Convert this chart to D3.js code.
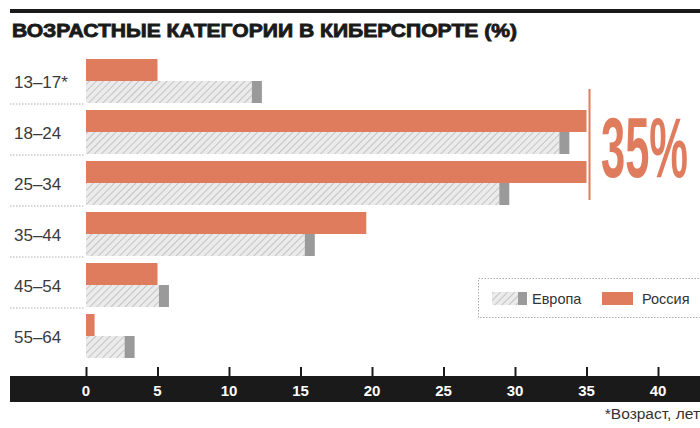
<!DOCTYPE html>
<html><head><meta charset="utf-8">
<script src="https://cdn.jsdelivr.net/npm/d3@7"></script>
<style>body{margin:0;background:#fff}svg{display:block}</style>
</head><body>
<script>
const categories = ["13–17*", "18–24", "25–34", "35–44", "45–54", "55–64"];
const russia = [5, 35, 35, 19.6, 5, 0.6];
const europe = [12.3, 33.8, 29.6, 16.0, 5.8, 3.4];
const ticks = [0, 5, 10, 15, 20, 25, 30, 35, 40];
const seriesNames = ["Европа", "Россия"];
const title = "ВОЗРАСТНЫЕ КАТЕГОРИИ В КИБЕРСПОРТЕ (%)";
const highlight = "35%";
const footnote = "*Возраст, лет";

const W = 700, H = 428;
const orange = "#e07c5e", grey = "#9a9a9a";
const svg = d3.select("body").append("svg").attr("width", W).attr("height", H);
const defs = svg.append("defs");
const pat = defs.append("pattern").attr("id", "hatch").attr("patternUnits", "userSpaceOnUse")
  .attr("width", 5).attr("height", 5).attr("patternTransform", "rotate(45)");
pat.append("rect").attr("width", 5).attr("height", 5).attr("fill", "#ebebeb");
pat.append("line").attr("x1", 0).attr("y1", 0).attr("x2", 0).attr("y2", 5)
  .attr("stroke", "#b3b3b3").attr("stroke-width", 1.4);

const x = d3.scaleLinear().domain([0, 40]).range([86, 658]);
const y = d3.scaleBand().domain(categories).range([55, 361]).paddingInner(0).paddingOuter(0);
const barH = 22;

// top rule and title
svg.append("rect").attr("x", 10).attr("y", 9).attr("width", 690).attr("height", 4).attr("fill", "#1a1a1a");
svg.append("text").attr("x", 12).attr("y", 37).text(title)
  .attr("font-family", "Liberation Sans, Arial, sans-serif").attr("font-weight", "bold")
  .attr("font-size", 17.5).attr("fill", "#1a1a1a")
  .attr("textLength", 505).attr("lengthAdjust", "spacingAndGlyphs")
  .style("stroke", "#1a1a1a").style("stroke-width", 0.8);

// separators
categories.slice(1).forEach(c => {
  svg.append("line").attr("x1", 10).attr("x2", 85).attr("y1", y(c) - 2).attr("y2", y(c) - 2)
    .attr("stroke", "#999").attr("stroke-width", 0.8).attr("stroke-dasharray", "1.5,1.5");
});

const rows = svg.append("g").selectAll("g").data(categories).join("g");
rows.append("rect").attr("x", x(0)).attr("y", d => y(d) + 4)
  .attr("width", (d, i) => x(russia[i]) - x(0)).attr("height", barH).attr("fill", orange);
const cap = 10;
rows.append("rect").attr("x", x(0)).attr("y", d => y(d) + 4 + barH)
  .attr("width", (d, i) => Math.max(0, x(europe[i]) - x(0) - cap)).attr("height", barH).attr("fill", "url(#hatch)");
rows.append("rect").attr("x", (d, i) => x(europe[i]) - cap).attr("y", d => y(d) + 4 + barH)
  .attr("width", cap).attr("height", barH).attr("fill", grey);
rows.append("text").attr("x", 14).attr("y", d => y(d) + 4 + barH + 7).text(d => d)
  .attr("font-family", "Liberation Sans, Arial, sans-serif").attr("font-size", 17).attr("fill", "#3a3a3a");

// 35% annotation
svg.append("line").attr("x1", x(35) + 3).attr("x2", x(35) + 3).attr("y1", 89).attr("y2", 200)
  .attr("stroke", orange).attr("stroke-width", 2);
svg.append("text").attr("x", 601).attr("y", 177).text(highlight)
  .attr("font-family", "Liberation Sans Narrow, Arial Narrow, sans-serif").attr("font-weight", "bold")
  .attr("font-size", 86).attr("fill", orange)
  .attr("textLength", 87).attr("lengthAdjust", "spacingAndGlyphs");

// legend
svg.append("rect").attr("x", 478.5).attr("y", 278.5).attr("width", 225).attr("height", 39)
  .attr("fill", "none").attr("stroke", "#999").attr("stroke-dasharray", "1.5,1.5").attr("stroke-width", 0.8);
svg.append("rect").attr("x", 492).attr("y", 292).attr("width", 26).attr("height", 13).attr("fill", "url(#hatch)");
svg.append("rect").attr("x", 518).attr("y", 292).attr("width", 9).attr("height", 13).attr("fill", grey);
svg.append("text").attr("x", 532).attr("y", 304).text(seriesNames[0])
  .attr("font-family", "Liberation Sans, Arial, sans-serif").attr("font-size", 14.5).attr("fill", "#333");
svg.append("rect").attr("x", 602).attr("y", 292).attr("width", 31).attr("height", 13).attr("fill", orange);
svg.append("text").attr("x", 642).attr("y", 304).text(seriesNames[1])
  .attr("font-family", "Liberation Sans, Arial, sans-serif").attr("font-size", 14.5).attr("fill", "#333");

// axis band
svg.append("rect").attr("x", 10).attr("y", 376).attr("width", 690).attr("height", 26).attr("fill", "#1a1a1a");
const axis = d3.axisTop(x).tickValues(ticks).tickSize(10).tickPadding(0).tickFormat(() => "");
const ag = svg.append("g").attr("transform", "translate(0,377)").call(axis);
ag.select(".domain").remove();
ag.selectAll(".tick line").attr("stroke", "#1a1a1a").attr("stroke-width", 2);
svg.append("g").selectAll("text").data(ticks).join("text")
  .attr("x", d => x(d)).attr("y", 396).attr("text-anchor", "middle").text(d => d)
  .attr("font-family", "Liberation Sans, Arial, sans-serif").attr("font-weight", "bold")
  .attr("font-size", 15).attr("fill", "#fff");

svg.append("text").attr("x", 700).attr("y", 419).attr("text-anchor", "end").text(footnote)
  .attr("font-family", "Liberation Sans, Arial, sans-serif").attr("font-size", 15.5).attr("fill", "#333");
</script>
</body></html>
